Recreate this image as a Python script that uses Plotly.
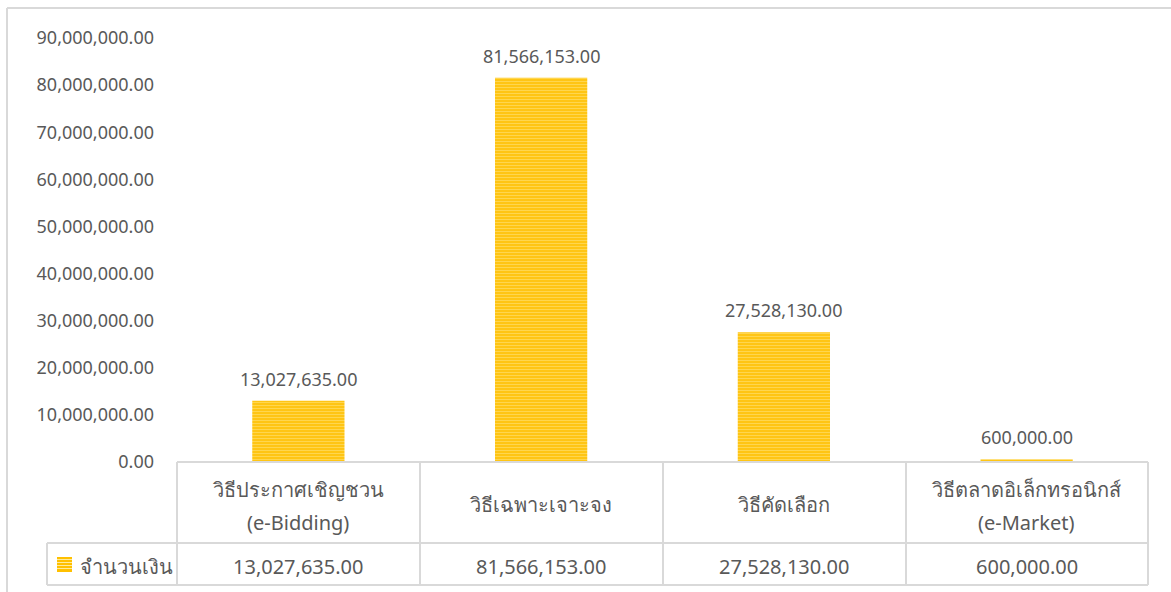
import plotly.graph_objects as go

categories = ["วิธีประกาศเชิญชวน<br>(e-Bidding)", "วิธีเฉพาะเจาะจง", "วิธีคัดเลือก", "วิธีตลาดอิเล็กทรอนิกส์<br>(e-Market)"]
values = [13027635.00, 81566153.00, 27528130.00, 600000.00]
series_name = "จำนวนเงิน"

W, H = 1171, 592
L, R, T, B = 177, 23, 38, 130
PW, PH = W - L - R, H - T - B

def px_x(px):
    return (px - L) / PW

def px_y(py):
    return (H - B - py) / PH

FONT = "Noto Sans, Leelawadee UI, Tahoma, sans-serif"
GRAY = "#595959"
LINE = "#d9d9d9"
GOLD = "#FFC000"
PALE = "#FFEB9C"

fig = go.Figure()
fig.add_trace(go.Bar(
    x=list(range(len(categories))), y=values, name=series_name,
    marker=dict(color=GOLD, line=dict(width=0),
                pattern=dict(shape="-", fgcolor=PALE, size=3, solidity=0.5)),
    showlegend=False, hoverinfo="skip",
))

shapes = []
# chart border: only top and left edges are visible in the crop
shapes.append(dict(type="line", xref="paper", yref="paper",
                   x0=px_x(7), x1=px_x(1171), y0=px_y(8), y1=px_y(8),
                   line=dict(color=LINE, width=2)))
shapes.append(dict(type="line", xref="paper", yref="paper",
                   x0=px_x(7), x1=px_x(7), y0=px_y(8), y1=px_y(592),
                   line=dict(color=LINE, width=2)))
col_edges = [177, 420, 663, 906, 1148]
for yy, x0 in [(462, 177), (543, 47), (585, 47)]:
    shapes.append(dict(type="line", xref="paper", yref="paper",
                       x0=px_x(x0), x1=px_x(1148), y0=px_y(yy), y1=px_y(yy),
                       line=dict(color=LINE, width=2)))
for xx in col_edges:
    shapes.append(dict(type="line", xref="paper", yref="paper",
                       x0=px_x(xx), x1=px_x(xx), y0=px_y(462), y1=px_y(585),
                       line=dict(color=LINE, width=2)))
shapes.append(dict(type="line", xref="paper", yref="paper",
                   x0=px_x(47), x1=px_x(47), y0=px_y(543), y1=px_y(585),
                   line=dict(color=LINE, width=2)))

# legend key (striped square) in the data-table row header
shapes.append(dict(type="rect", xref="paper", yref="paper",
                   x0=px_x(57), x1=px_x(72), y0=px_y(557), y1=px_y(572),
                   fillcolor=GOLD, line=dict(width=0)))
for sy in [559.5, 562.5, 565.5, 568.5]:
    shapes.append(dict(type="line", xref="paper", yref="paper",
                       x0=px_x(57), x1=px_x(72), y0=px_y(sy), y1=px_y(sy),
                       line=dict(color=PALE, width=1)))

annotations = []
# data labels above the bars
for i, v in enumerate(values):
    annotations.append(dict(x=i, xref="x", y=v, yref="y", text=f"{v:,.2f}",
                            showarrow=False, xanchor="center", yanchor="middle",
                            yshift=22, font=dict(color=GRAY, size=18, family=FONT)))
# data table
for i, (c, v) in enumerate(zip(categories, values)):
    lines = c.split("<br>")
    if len(lines) == 1:
        ys = [504]
    else:
        ys = [489, 522]
    for ln, yy in zip(lines, ys):
        annotations.append(dict(x=i, xref="x", y=px_y(yy), yref="paper", text=ln,
                                showarrow=False, xanchor="center", yanchor="middle",
                                font=dict(color=GRAY, size=20, family=FONT)))
    annotations.append(dict(x=i, xref="x", y=px_y(566), yref="paper", text=f"{v:,.2f}",
                            showarrow=False, xanchor="center", yanchor="middle",
                            font=dict(color=GRAY, size=20, family=FONT)))
annotations.append(dict(x=px_x(78), xref="paper", y=px_y(566), yref="paper", text=series_name,
                        showarrow=False, xanchor="left", yanchor="middle",
                        font=dict(color=GRAY, size=20, family=FONT)))

fig.update_layout(
    width=W, height=H, autosize=False, margin=dict(l=L, r=R, t=T, b=B),
    paper_bgcolor="white", plot_bgcolor="white",
    bargap=0.62,
    showlegend=False,
    xaxis=dict(range=[-0.5, 3.5], showticklabels=False, showgrid=False, zeroline=False,
               showline=False, ticks=""),
    yaxis=dict(range=[0, 90000000], dtick=10000000, tickformat=",.2f",
               showgrid=False, zeroline=False, showline=False, ticks="",
               ticklabelstandoff=22,
               tickfont=dict(color=GRAY, size=18, family=FONT)),
    shapes=shapes, annotations=annotations,
    font=dict(family=FONT, color=GRAY),
)
fig.write_html(
    "out.html",
    config={"responsive": False, "displayModeBar": False},
)
